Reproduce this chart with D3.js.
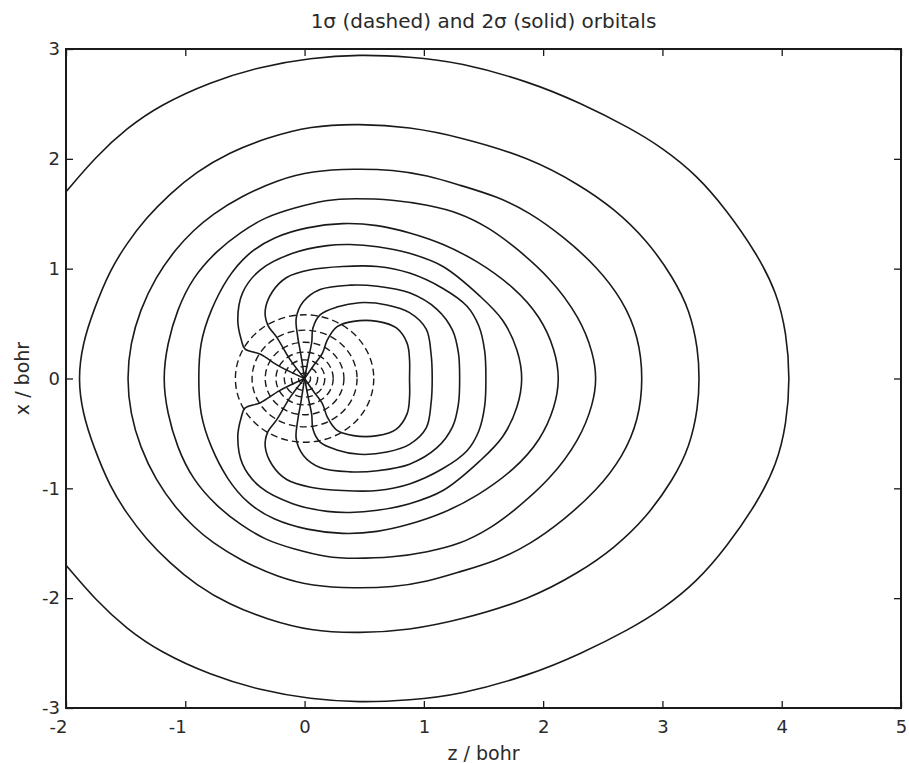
<!DOCTYPE html>
<html>
<head>
<meta charset="utf-8">
<script src="https://cdn.jsdelivr.net/npm/d3@7"></script>
<style>
    body { margin: 0; background: #fff; }
    svg text { font-family: "DejaVu Sans", sans-serif; fill: #2a2a2a; }
</style>
</head>
<body>
<div></div>
<script>
// Ticks
var zTicks = [-2, -1, 0, 1, 2, 3, 4, 5];
var xTicks = [-3, -2, -1, 0, 1, 2, 3];

// 1 sigma (dashed): radios de los circulos alrededor del nucleo (bohr)
var dashedRadii = [0.05, 0.11, 0.17, 0.24, 0.33, 0.44, 0.58];

// 2 sigma (solid): mitad superior de cada contorno, [z, x] en bohr
var solid1 = [[-2.00, 1.70], [-1.75, 2.02], [-1.49, 2.28], [-1.21, 2.49], [-0.79, 2.70], [-0.37, 2.84],
    [0.05, 2.92], [0.46, 2.95], [0.88, 2.93], [1.30, 2.88], [1.89, 2.70], [2.31, 2.51], [2.73, 2.28],
    [3.00, 2.10], [3.29, 1.85], [3.54, 1.53], [3.79, 1.14], [3.96, 0.78], [4.04, 0.41], [4.07, 0]];
var solid2 = [[-1.90, 0], [-1.86, 0.32], [-1.77, 0.62], [-1.63, 0.99], [-1.49, 1.23], [-1.33, 1.46],
    [-1.13, 1.68], [-0.91, 1.88], [-0.63, 2.06], [-0.32, 2.19], [0.05, 2.30], [0.46, 2.32], [0.88, 2.29],
    [1.30, 2.20], [1.89, 2.01], [2.31, 1.76], [2.59, 1.55], [2.87, 1.26], [3.09, 0.92], [3.23, 0.62],
    [3.30, 0.26], [3.31, 0]];
var solid3 = [[-1.49, 0], [-1.46, 0.32], [-1.38, 0.62], [-1.25, 0.92], [-1.08, 1.18], [-0.93, 1.35],
    [-0.78, 1.49], [-0.53, 1.66], [-0.22, 1.81], [0.06, 1.89], [0.42, 1.91], [0.74, 1.90], [1.03, 1.85],
    [1.30, 1.76], [1.61, 1.66], [1.89, 1.51], [2.17, 1.29], [2.45, 1.02], [2.67, 0.71], [2.80, 0.38],
    [2.84, 0]];
var solid4 = [[-1.19, 0], [-1.15, 0.32], [-1.07, 0.62], [-0.94, 0.92], [-0.73, 1.17], [-0.54, 1.33],
    [-0.33, 1.47], [-0.10, 1.55], [0.19, 1.63], [0.41, 1.64], [0.74, 1.63], [1.03, 1.58], [1.30, 1.51],
    [1.55, 1.37], [1.75, 1.21], [2.06, 0.92], [2.31, 0.55], [2.42, 0.23], [2.45, 0]];
var solid5 = [[-0.89, 0], [-0.88, 0.32], [-0.79, 0.62], [-0.65, 0.92], [-0.48, 1.14], [-0.26, 1.29],
    [0.02, 1.38], [0.32, 1.42], [0.61, 1.40], [0.88, 1.33], [1.16, 1.23], [1.45, 1.07], [1.76, 0.83],
    [1.98, 0.56], [2.10, 0.26], [2.14, 0]];
var solid6 = [[0, 0], [-0.21, 0.11], [-0.37, 0.22], [-0.50, 0.27], [-0.53, 0.35], [-0.56, 0.53],
    [-0.52, 0.78], [-0.37, 0.99], [-0.10, 1.14], [0.19, 1.21], [0.38, 1.22], [0.61, 1.20], [0.88, 1.14],
    [1.16, 1.02], [1.47, 0.75], [1.66, 0.53], [1.78, 0.26], [1.82, 0]];
var solid7 = [[0, 0], [-0.12, 0.17], [-0.23, 0.37], [-0.31, 0.49], [-0.33, 0.62], [-0.27, 0.79],
    [-0.15, 0.92], [0.05, 0.99], [0.32, 1.02], [0.61, 1.02], [0.88, 0.96], [1.16, 0.82], [1.36, 0.66],
    [1.46, 0.48], [1.51, 0.25], [1.52, 0]];
var solid8 = [[0, 0], [-0.03, 0.21], [-0.06, 0.40], [-0.07, 0.55], [-0.01, 0.70], [0.13, 0.81],
    [0.38, 0.85], [0.61, 0.84], [0.88, 0.78], [1.11, 0.63], [1.24, 0.44], [1.29, 0.23], [1.30, 0]];
var solid9 = [[0, 0], [0.03, 0.17], [0.06, 0.33], [0.07, 0.46], [0.13, 0.58], [0.27, 0.65],
    [0.46, 0.69], [0.69, 0.67], [0.88, 0.60], [1.02, 0.45], [1.06, 0.23], [1.07, 0]];
var solid10 = [[0, 0], [0.07, 0.11], [0.15, 0.23], [0.19, 0.35], [0.27, 0.47], [0.41, 0.52],
    [0.61, 0.52], [0.77, 0.46], [0.86, 0.32], [0.88, 0.17], [0.88, 0]];

var solidContours = [solid1, solid2, solid3, solid4, solid5, solid6, solid7, solid8, solid9, solid10];

drawChart();

function drawChart() {
    var width = 909;
    var height = 763;
    var left = 66, right = 901, top = 49, bottom = 708;
    var ink = "#1a1a1a";

    var svg = d3.select('div')
        .append('svg')
        .attr('width', width)
        .attr('height', height);

    var zScale = d3.scaleLinear().domain([-2, 5]).range([left, right]);
    var xScale = d3.scaleLinear().domain([-3, 3]).range([bottom, top]);

    svg.append('defs')
        .append('clipPath')
        .attr('id', 'plotClip')
        .append('rect')
        .attr('x', left)
        .attr('y', top)
        .attr('width', right - left)
        .attr('height', bottom - top);

    var plot = svg.append('g').attr('clip-path', 'url(#plotClip)');

    // 1 sigma: circulos discontinuos
    plot.selectAll('ellipse')
        .data(dashedRadii)
        .enter()
        .append('ellipse')
        .attr('cx', zScale(0))
        .attr('cy', xScale(0))
        .attr('rx', d => zScale(d) - zScale(0))
        .attr('ry', d => xScale(0) - xScale(d))
        .attr('fill', 'none')
        .attr('stroke', ink)
        .attr('stroke-width', 1.4)
        .attr('stroke-dasharray', '7,4');

    // 2 sigma: se refleja la mitad superior (simetria en x)
    function fullContour(half) {
        var lower = half.slice(0, -1).reverse().map(p => [p[0], -p[1]]);
        return half.concat(lower);
    }

    function lineWith(curve) {
        return d3.line()
            .x(d => zScale(d[0]))
            .y(d => xScale(d[1]))
            .curve(curve);
    }
    var outerOpen = lineWith(d3.curveBasis);
    var outerClosed = lineWith(d3.curveBasisClosed);
    var innerLine = lineWith(d3.curveCatmullRom.alpha(0.5));

    plot.selectAll('path.solid')
        .data(solidContours)
        .enter()
        .append('path')
        .attr('class', 'solid')
        .attr('d', function(d, i) {
            var pts = fullContour(d);
            if (i === 0) return outerOpen(pts);
            if (i <= 4) return outerClosed(pts.slice(0, -1));
            return innerLine(pts);
        })
        .attr('fill', 'none')
        .attr('stroke', ink)
        .attr('stroke-width', 1.6);

    // Ejes (ticks hacia dentro, estilo MATLAB)
    var xAxisB = svg.append('g')
        .attr('transform', 'translate(0,' + bottom + ')')
        .call(d3.axisBottom(zScale).tickValues(zTicks).tickSize(-7).tickSizeOuter(0)
            .tickPadding(12).tickFormat(d => String(d)));
    xAxisB.selectAll('text')
        .attr('dx', d => d < 0 ? -8 : 0);

    svg.append('g')
        .attr('transform', 'translate(0,' + top + ')')
        .call(d3.axisTop(zScale).tickValues(zTicks).tickSize(-7).tickSizeOuter(0).tickFormat(''));

    svg.append('g')
        .attr('transform', 'translate(' + left + ',0)')
        .call(d3.axisLeft(xScale).tickValues(xTicks).tickSize(-7).tickSizeOuter(0)
            .tickPadding(6).tickFormat(d => String(d)));

    svg.append('g')
        .attr('transform', 'translate(' + right + ',0)')
        .call(d3.axisRight(xScale).tickValues(xTicks).tickSize(-7).tickSizeOuter(0).tickFormat(''));

    svg.selectAll('.domain').remove();
    svg.selectAll('.tick line').attr('stroke', ink).attr('stroke-width', 1.3);
    svg.selectAll('.tick text')
        .style('font-size', '18px')
        .style('font-family', '"DejaVu Sans", sans-serif')
        .attr('fill', '#2a2a2a');

    svg.append('rect')
        .attr('x', left)
        .attr('y', top)
        .attr('width', right - left)
        .attr('height', bottom - top)
        .attr('fill', 'none')
        .attr('stroke', ink)
        .attr('stroke-width', 2);

    // Titulo y etiquetas
    svg.append('text')
        .attr('x', (left + right) / 2)
        .attr('y', 28)
        .attr('text-anchor', 'middle')
        .style('font-size', '20px')
        .text('1\u03c3 (dashed) and 2\u03c3 (solid) orbitals');

    svg.append('text')
        .attr('x', (left + right) / 2)
        .attr('y', 760)
        .attr('text-anchor', 'middle')
        .style('font-size', '19px')
        .text('z / bohr');

    svg.append('text')
        .attr('transform', 'translate(29,' + xScale(0) + ') rotate(-90)')
        .attr('text-anchor', 'middle')
        .style('font-size', '19px')
        .text('x / bohr');
}
</script>
</body>
</html>
